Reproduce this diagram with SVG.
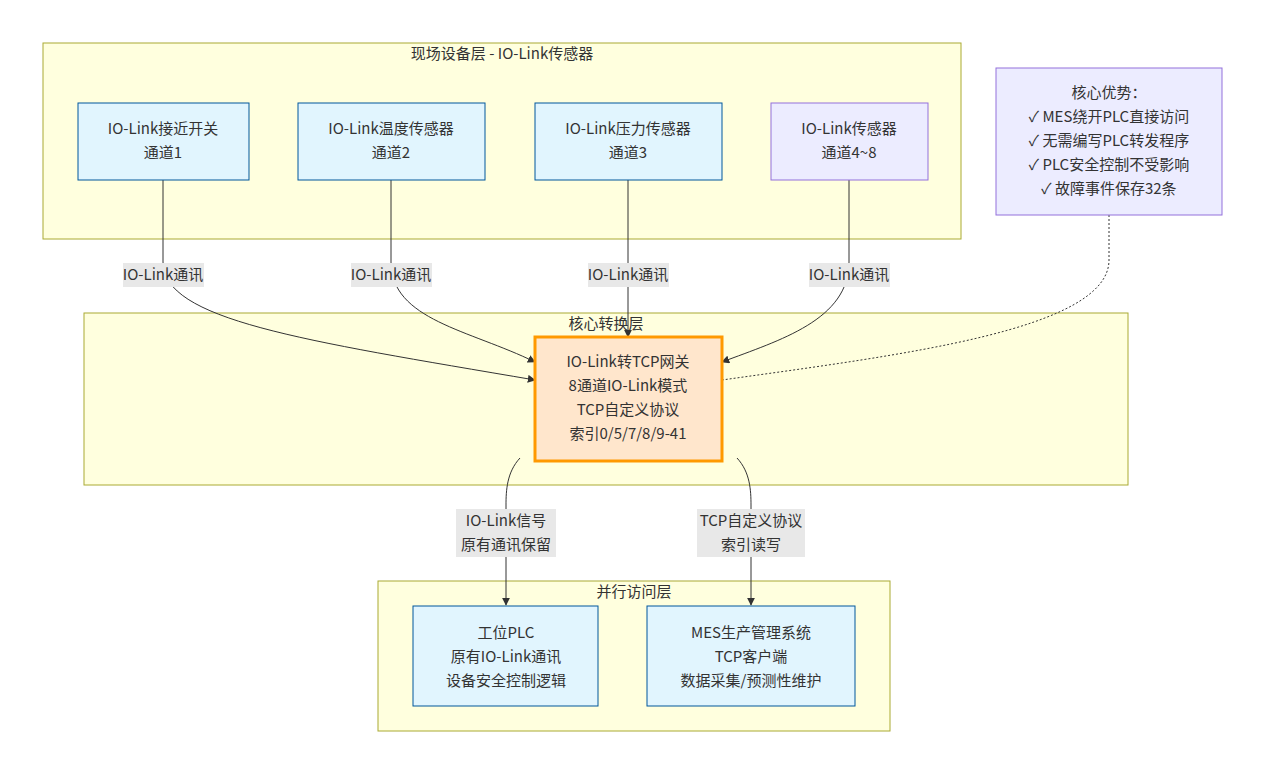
<svg xmlns="http://www.w3.org/2000/svg" width="1265" height="774" viewBox="0 0 1265 774">
<style>
text{font-family:"Noto Sans CJK SC","Noto Sans",sans-serif;font-size:15px;fill:#333;text-anchor:middle}
.cl{fill:#ffffde;stroke:#aaaa33;stroke-width:1}
.n{fill:#e1f5fe;stroke:#01579b;stroke-width:1}
.p{fill:#ececff;stroke:#9370db;stroke-width:1}
.e{fill:none;stroke:#333;stroke-width:1}
.lb{fill:#e8e8e8}
</style>
<defs><marker id="a" viewBox="0 0 10 10" refX="9" refY="5" markerWidth="8" markerHeight="8" orient="auto"><path d="M0,0L10,5L0,10z" fill="#333"/></marker></defs>
<g id="clusters">
<rect class="cl" x="43" y="43" width="918" height="196"/><text x="502" y="59">现场设备层 - IO-Link传感器</text>
<rect class="cl" x="84" y="313" width="1044" height="172"/><text x="606" y="329">核心转换层</text>
<rect class="cl" x="378" y="581" width="512" height="150"/><text x="634" y="597">并行访问层</text>
</g>
<g id="edges">
<path class="e" d="M163,180V262C163,320 300,340 535,380" marker-end="url(#a)"/>
<path class="e" d="M391,180V262C391,320 470,330 535,362" marker-end="url(#a)"/>
<path class="e" d="M628,180V337" marker-end="url(#a)"/>
<path class="e" d="M849,180V262C849,320 780,340 722,362" marker-end="url(#a)"/>
<path class="e" d="M1109,215V260C1109,330 900,355 722,380" stroke-dasharray="2,2"/>
<path class="e" d="M520,458C507,472 506,490 506,505V605" marker-end="url(#a)"/>
<path class="e" d="M737,458C750,472 751,490 751,505V605" marker-end="url(#a)"/>
<rect class="lb" x="123" y="263" width="81" height="24"/><text x="163" y="280">IO-Link通讯</text>
<rect class="lb" x="351" y="263" width="81" height="24"/><text x="391" y="280">IO-Link通讯</text>
<rect class="lb" x="588" y="263" width="81" height="24"/><text x="628" y="280">IO-Link通讯</text>
<rect class="lb" x="809" y="263" width="81" height="24"/><text x="849" y="280">IO-Link通讯</text>
<rect class="lb" x="456" y="509" width="100" height="48"/><text x="506" y="526">IO-Link信号</text><text x="506" y="550">原有通讯保留</text>
<rect class="lb" x="697" y="509" width="108" height="48"/><text x="751" y="526">TCP自定义协议</text><text x="751" y="550">索引读写</text>
</g>
<g id="s1"><rect class="n" x="78" y="103" width="171" height="77"/><text x="163" y="134">IO-Link接近开关</text><text x="163" y="158">通道1</text></g>
<g id="s2"><rect class="n" x="298" y="103" width="187" height="77"/><text x="391" y="134">IO-Link温度传感器</text><text x="391" y="158">通道2</text></g>
<g id="s3"><rect class="n" x="535" y="103" width="187" height="77"/><text x="628" y="134">IO-Link压力传感器</text><text x="628" y="158">通道3</text></g>
<g id="s4"><rect class="p" x="771" y="103" width="157" height="77"/><text x="849" y="134">IO-Link传感器</text><text x="849" y="158">通道4~8</text></g>
<g id="note"><rect class="p" x="996" y="68" width="226" height="147"/><text x="1109" y="98">核心优势：</text><text x="1109" y="122">✓ MES绕开PLC直接访问</text><text x="1109" y="146">✓ 无需编写PLC转发程序</text><text x="1109" y="170">✓ PLC安全控制不受影响</text><text x="1109" y="194">✓ 故障事件保存32条</text></g>
<g id="gw"><rect x="535" y="337" width="187" height="124" fill="#ffe6cc" stroke="#ff9900" stroke-width="3"/><text x="628" y="367">IO-Link转TCP网关</text><text x="628" y="391">8通道IO-Link模式</text><text x="628" y="415">TCP自定义协议</text><text x="628" y="439">索引0/5/7/8/9-41</text></g>
<g id="plc"><rect class="n" x="413" y="606" width="185" height="100"/><text x="506" y="638">工位PLC</text><text x="506" y="662">原有IO-Link通讯</text><text x="506" y="686">设备安全控制逻辑</text></g>
<g id="mes"><rect class="n" x="647" y="606" width="208" height="100"/><text x="751" y="638">MES生产管理系统</text><text x="751" y="662">TCP客户端</text><text x="751" y="686">数据采集/预测性维护</text></g>
</svg>
